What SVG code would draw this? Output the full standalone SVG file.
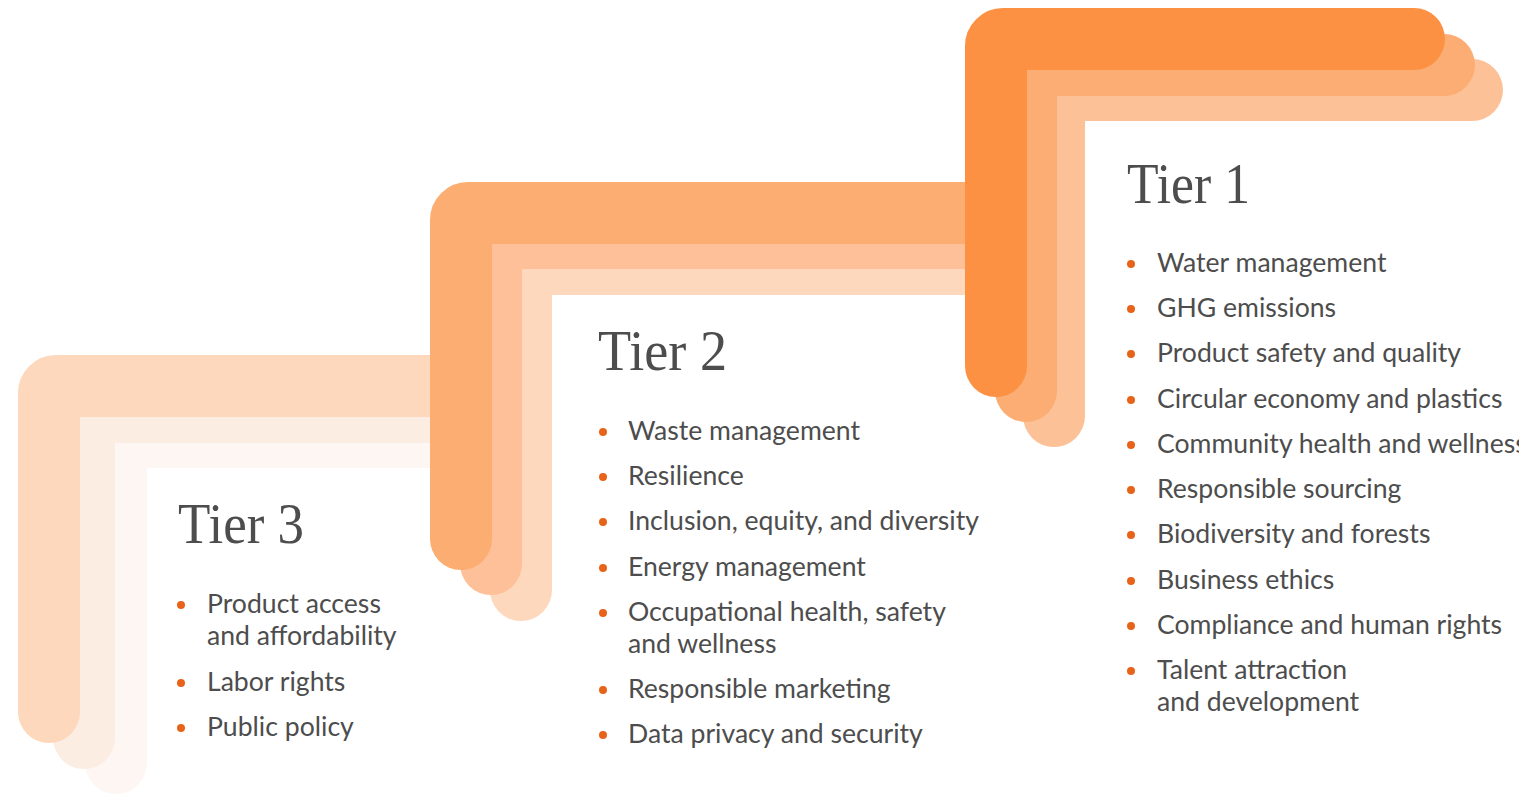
<svg xmlns="http://www.w3.org/2000/svg" width="1519" height="795" viewBox="0 0 1519 795">
<style>
.band{fill:none;stroke-width:62;stroke-linecap:round;stroke-linejoin:round}
.head{font-family:"Liberation Serif","Times New Roman",serif;font-size:56px;fill:#4d4d4d}
.item{font-family:Lato,"Liberation Sans",sans-serif;font-size:26.6px;fill:#4d4d4d}
.dot{fill:#e8631a}
</style>
<rect width="1519" height="795" fill="#ffffff"/>
<g id="tier3">
<path class="band" stroke="#fdf6f2" d="M116 763 V444 A7 7 0 0 1 123 437 H460"/>
<path class="band" stroke="#fcede3" d="M84 738 V419 A7 7 0 0 1 91 412 H460"/>
<path class="band" stroke="#fdd8bc" d="M49 712 V393 A7 7 0 0 1 56 386 H460"/>
</g>
<g id="tier2">
<path class="band" stroke="#fdd8bc" d="M521 590 V271 A7 7 0 0 1 528 264 H990"/>
<path class="band" stroke="#fdc098" d="M491 564 V245 A7 7 0 0 1 498 238 H990"/>
<path class="band" stroke="#fbad72" d="M461 539 V220 A7 7 0 0 1 468 213 H990"/>
</g>
<g id="tier1">
<path class="band" stroke="#fdc197" d="M1054 416 V97 A7 7 0 0 1 1061 90 H1472"/>
<path class="band" stroke="#fbad73" d="M1026 391 V72 A7 7 0 0 1 1033 65 H1444"/>
<path class="band" stroke="#fd9143" d="M996 366 V46 A7 7 0 0 1 1003 39 H1414"/>
</g>
<g id="tier3-text">
<text class="head" x="178" y="543" textLength="126" lengthAdjust="spacingAndGlyphs">Tier 3</text>
<circle class="dot" cx="181" cy="605" r="4"/>
<text class="item" x="207" y="613">Product access</text>
<text class="item" x="207" y="645">and affordability</text>
<circle class="dot" cx="181" cy="683" r="4"/>
<text class="item" x="207" y="691">Labor rights</text>
<circle class="dot" cx="181" cy="728" r="4"/>
<text class="item" x="207" y="736">Public policy</text>
</g>
<g id="tier2-text">
<text class="head" x="598" y="370" textLength="129" lengthAdjust="spacingAndGlyphs">Tier 2</text>
<circle class="dot" cx="603" cy="432" r="4"/>
<text class="item" x="628" y="440">Waste management</text>
<circle class="dot" cx="603" cy="477" r="4"/>
<text class="item" x="628" y="485">Resilience</text>
<circle class="dot" cx="603" cy="522" r="4"/>
<text class="item" x="628" y="530">Inclusion, equity, and diversity</text>
<circle class="dot" cx="603" cy="568" r="4"/>
<text class="item" x="628" y="576">Energy management</text>
<circle class="dot" cx="603" cy="613" r="4"/>
<text class="item" x="628" y="621">Occupational health, safety</text>
<text class="item" x="628" y="653">and wellness</text>
<circle class="dot" cx="603" cy="690" r="4"/>
<text class="item" x="628" y="698">Responsible marketing</text>
<circle class="dot" cx="603" cy="735" r="4"/>
<text class="item" x="628" y="743">Data privacy and security</text>
</g>
<g id="tier1-text">
<text class="head" x="1127" y="203" textLength="123" lengthAdjust="spacingAndGlyphs">Tier 1</text>
<circle class="dot" cx="1131" cy="264" r="4"/>
<text class="item" x="1157" y="272">Water management</text>
<circle class="dot" cx="1131" cy="309" r="4"/>
<text class="item" x="1157" y="317">GHG emissions</text>
<circle class="dot" cx="1131" cy="354" r="4"/>
<text class="item" x="1157" y="362">Product safety and quality</text>
<circle class="dot" cx="1131" cy="400" r="4"/>
<text class="item" x="1157" y="408">Circular economy and plastics</text>
<circle class="dot" cx="1131" cy="445" r="4"/>
<text class="item" x="1157" y="453">Community health and wellness</text>
<circle class="dot" cx="1131" cy="490" r="4"/>
<text class="item" x="1157" y="498">Responsible sourcing</text>
<circle class="dot" cx="1131" cy="535" r="4"/>
<text class="item" x="1157" y="543">Biodiversity and forests</text>
<circle class="dot" cx="1131" cy="581" r="4"/>
<text class="item" x="1157" y="589">Business ethics</text>
<circle class="dot" cx="1131" cy="626" r="4"/>
<text class="item" x="1157" y="634">Compliance and human rights</text>
<circle class="dot" cx="1131" cy="671" r="4"/>
<text class="item" x="1157" y="679">Talent attraction</text>
<text class="item" x="1157" y="711">and development</text>
</g>
</svg>
